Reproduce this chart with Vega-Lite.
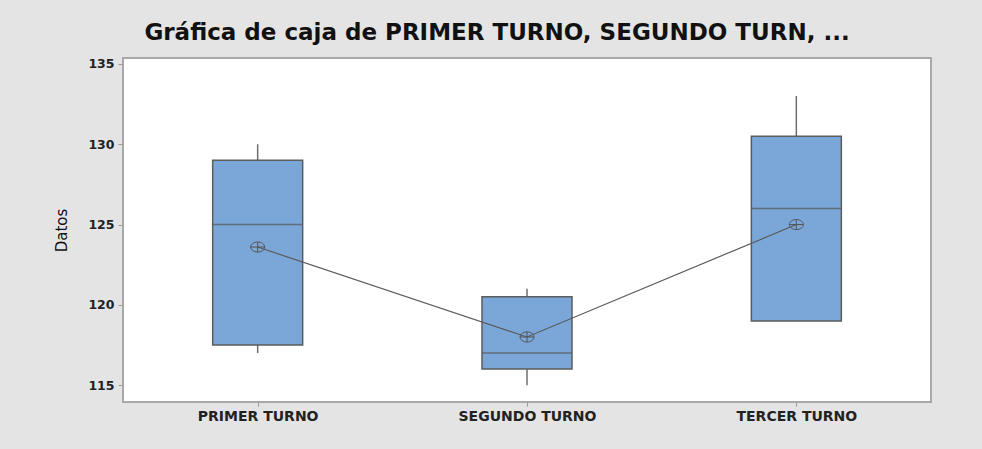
{
  "$schema": "https://vega.github.io/schema/vega-lite/v6.json",
  "width": 808,
  "height": 344,
  "autosize": {"type": "none"},
  "padding": {"left": 123, "top": 58, "right": 51, "bottom": 47},
  "background": "#e4e4e4",
  "title": {
    "text": "Gráfica de caja de PRIMER TURNO, SEGUNDO TURN, ...",
    "font": "DejaVu Sans",
    "fontSize": 23,
    "fontWeight": "bold",
    "color": "#111111",
    "anchor": "middle",
    "baseline": "alphabetic",
    "offset": 0,
    "dx": -30,
    "dy": 5
  },
  "config": {
    "view": {"fill": "white", "stroke": "#a8a8a8", "strokeWidth": 2},
    "axis": {
      "domain": false,
      "grid": false,
      "tickColor": "#9a9a9a",
      "tickWidth": 1,
      "labelFont": "DejaVu Sans",
      "labelFontWeight": "bold",
      "labelColor": "#222222",
      "titleFont": "DejaVu Sans",
      "titleFontWeight": "normal",
      "titleColor": "#111111"
    }
  },
  "data": {
    "values": [
      {"turno": "PRIMER TURNO", "min": 117, "q1": 117.5, "median": 125, "q3": 129, "max": 130, "mean": 123.6},
      {"turno": "SEGUNDO TURNO", "min": 115, "q1": 116, "median": 117, "q3": 120.5, "max": 121, "mean": 118},
      {"turno": "TERCER TURNO", "min": 119, "q1": 119, "median": 126, "q3": 130.5, "max": 133, "mean": 125}
    ]
  },
  "encoding": {
    "x": {
      "field": "turno",
      "type": "nominal",
      "sort": null,
      "scale": {"type": "point", "padding": 0.5},
      "axis": {"title": null, "labelAngle": 0, "labelFontSize": 14, "tickSize": 4, "labelPadding": 3}
    }
  },
  "layer": [
    {
      "mark": {"type": "rule", "color": "#6e6e6e", "strokeWidth": 1.5},
      "encoding": {
        "y": {
          "field": "min",
          "type": "quantitative",
          "scale": {"domain": [113.95, 135.37], "nice": false, "zero": false},
          "axis": {
            "title": "Datos",
            "values": [115, 120, 125, 130, 135],
            "labelFontSize": 12.5,
            "tickSize": 5,
            "labelPadding": 4,
            "titleFontSize": 15,
            "titlePadding": 18
          }
        },
        "y2": {"field": "max"}
      }
    },
    {
      "mark": {"type": "bar", "size": 90, "fill": "#7ba6d8", "stroke": "#5c5c5c", "strokeWidth": 1.5},
      "encoding": {
        "y": {"field": "q1", "type": "quantitative"},
        "y2": {"field": "q3"}
      }
    },
    {
      "mark": {"type": "tick", "size": 90, "thickness": 1.5, "color": "#555555"},
      "encoding": {
        "y": {"field": "median", "type": "quantitative"}
      }
    },
    {
      "mark": {"type": "line", "color": "#5a5a5a", "strokeWidth": 1.2},
      "encoding": {
        "y": {"field": "mean", "type": "quantitative"}
      }
    },
    {
      "mark": {
        "type": "point",
        "shape": "M-1,0A1,0.72 0 1,1 1,0A1,0.72 0 1,1 -1,0M-1,0H1M0,-0.72V0.72",
        "size": 196,
        "filled": false,
        "stroke": "#555555",
        "strokeWidth": 1,
        "opacity": 1
      },
      "encoding": {
        "y": {"field": "mean", "type": "quantitative"}
      }
    }
  ]
}
